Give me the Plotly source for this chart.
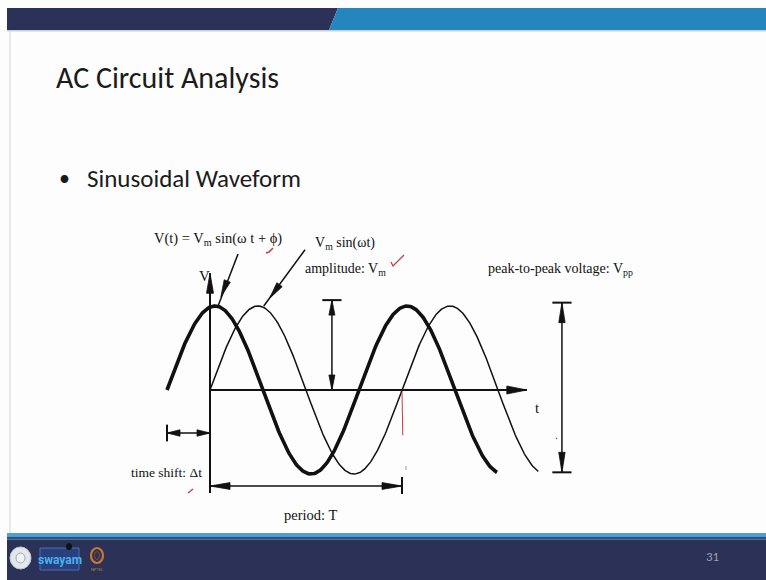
import numpy as np
import plotly.graph_objects as go

W, H = 766, 580

# ---- waveform parameters (time in periods, voltage in units of Vm) ----
PERIOD = 1.0
VM = 1.0
TIME_SHIFT = 0.224                 # Δt between the two waves
SHIFTED_SPAN = (-0.224, 1.495)     # bold wave  V(t) = Vm sin(ωt + φ)
BASE_SPAN = (0.0, 1.71)            # thin wave  Vm sin(ωt)

# ---- sketch axes ----
V_AXIS_SPAN = (-1.226, 1.39)
T_AXIS_END = 1.65

# ---- dimension markers ----
AMP_X, AMP_TOP = 0.635, 1.07
VPP_X, VPP_TOP, VPP_BOTTOM = 1.833, 1.04, -0.98
SHIFT_Y = -0.512
PERIOD_Y = -1.143
PERIOD_BAR = (-1.036, -1.238)

# ---- labels ----
TITLE = "AC Circuit Analysis"
BULLET = "Sinusoidal Waveform"
PAGE_NO = "31"

# scale of the sketch: pixels per period / per Vm, origin in page pixels
SX, SY = 192.0, 84.0
OX, OY = 210.0, 390.0
X_RANGE = [-OX / SX, (W - OX) / SX]
Y_RANGE = [-(H - OY) / SY, OY / SY]

INK = "#111111"
SERIF = "Liberation Serif, Times New Roman, serif"
SANS = "Carlito, Lato, sans-serif"
NAVY = "#2b3157"
BLUE = "#2586be"
RED = "#d23a3a"

fig = go.Figure()

# the two sinusoids
t1 = np.linspace(*SHIFTED_SPAN, 400)
fig.add_trace(go.Scatter(x=t1, y=VM * np.sin(2 * np.pi * (t1 + TIME_SHIFT) / PERIOD),
                         mode="lines", line=dict(color=INK, width=3.6), hoverinfo="skip"))
t2 = np.linspace(*BASE_SPAN, 400)
fig.add_trace(go.Scatter(x=t2, y=VM * np.sin(2 * np.pi * t2 / PERIOD),
                         mode="lines", line=dict(color=INK, width=1.5), hoverinfo="skip"))

shapes = []
annotations = []


def seg(x0, y0, x1, y1, width=1.5, color=INK):
    shapes.append(dict(type="line", xref="x", yref="y", x0=x0, y0=y0, x1=x1, y1=y1,
                       line=dict(color=color, width=width)))


def head(tip, frm, length=17, half=3.3):
    """Filled narrow arrowhead with its point at tip, aimed away from frm."""
    dx = (tip[0] - frm[0]) * SX
    dy = (tip[1] - frm[1]) * SY
    n = np.hypot(dx, dy)
    ux, uy = dx / n, dy / n
    bx, by = tip[0] - ux * length / SX, tip[1] - uy * length / SY
    p1 = (bx - uy * half / SX, by + ux * half / SY)
    p2 = (bx + uy * half / SX, by - ux * half / SY)
    path = f"M{tip[0]},{tip[1]} L{p1[0]},{p1[1]} L{p2[0]},{p2[1]} Z"
    shapes.append(dict(type="path", xref="x", yref="y", path=path,
                       fillcolor=INK, line=dict(color=INK, width=0.8)))


def label(x, y, text, anchor="left", size=13.5, font=SERIF, color=INK):
    annotations.append(dict(x=x, y=y, xref="x", yref="y",
                            text=text, showarrow=False, xanchor=anchor, yanchor="middle",
                            font=dict(family=font, size=size, color=color)))


# sketch axes
seg(0, V_AXIS_SPAN[0], 0, V_AXIS_SPAN[1], width=2)
head((0, V_AXIS_SPAN[1]), (0, 0), length=20, half=3.5)
seg(0, 0, T_AXIS_END, 0, width=2)
head((T_AXIS_END, 0), (0, 0), length=20, half=4)
label(-0.07, 1.36, "V", size=15)
label(1.683, -0.21, "t", size=15)

# pointer to the bold wave
f1_from, f1_end = (0.146, 1.62), (0.042, 1.0)
seg(*f1_from, *f1_end)
head((0.057, 1.11), f1_from)
label(0.385, 1.80, "V(t) = V<sub>m</sub> sin(ω t + ϕ)", anchor="right", size=14.5)

# pointer to the thin wave
f2_from, f2_end = (0.495, 1.67), (0.28, 1.0)
seg(*f2_from, *f2_end)
head((0.31, 1.09), f2_from)
label(0.536, 1.74, "V<sub>m</sub> sin(ωt)", size=14)

# amplitude marker
seg(AMP_X, 0, AMP_X, AMP_TOP)
seg(AMP_X - 0.05, AMP_TOP, AMP_X + 0.05, AMP_TOP, width=2)
head((AMP_X, AMP_TOP), (AMP_X, 0), length=15, half=3)
head((AMP_X, 0), (AMP_X, AMP_TOP), length=15, half=3)
label(0.485, 1.44, "amplitude: V<sub>m</sub>", size=14)

# peak-to-peak marker
seg(VPP_X, VPP_BOTTOM, VPP_X, VPP_TOP)
seg(VPP_X - 0.05, VPP_TOP, VPP_X + 0.05, VPP_TOP, width=2)
seg(VPP_X - 0.05, VPP_BOTTOM, VPP_X + 0.05, VPP_BOTTOM, width=2)
head((VPP_X, VPP_TOP), (VPP_X, VPP_BOTTOM), length=20, half=3.2)
head((VPP_X, VPP_BOTTOM), (VPP_X, VPP_TOP), length=20, half=3.2)
label(1.44, 1.44, "peak-to-peak voltage: V<sub>pp</sub>", size=14)

# time-shift marker
seg(-TIME_SHIFT, SHIFT_Y, 0, SHIFT_Y)
seg(-TIME_SHIFT, SHIFT_Y - 0.1, -TIME_SHIFT, SHIFT_Y + 0.1, width=2)
head((-TIME_SHIFT, SHIFT_Y), (0, SHIFT_Y), length=13, half=3.2)
head((0, SHIFT_Y), (-TIME_SHIFT, SHIFT_Y), length=13, half=3.2)
label(-0.03, -0.985, "time shift: Δt", anchor="right")

# period marker
seg(0, PERIOD_Y, PERIOD, PERIOD_Y)
seg(PERIOD, PERIOD_BAR[0], PERIOD, PERIOD_BAR[1], width=2)
head((0, PERIOD_Y), (PERIOD, PERIOD_Y), length=20, half=3.4)
head((PERIOD, PERIOD_Y), (0, PERIOD_Y), length=20, half=3.4)
label(0.525, -1.49, "period: T", anchor="center", size=14.5)

# hand-drawn red mark at the end of one period
seg(PERIOD, -0.02, PERIOD + 0.004, -0.54, width=1, color=RED)


def page_xy(px, py):
    return px / W, 1 - py / H


def page_path(points, fill=None, color=None, width=0, closed=True):
    p = [page_xy(*pt) for pt in points]
    d = "M" + " L".join(f"{x},{y}" for x, y in p) + (" Z" if closed else "")
    shapes.append(dict(type="path", xref="paper", yref="paper", path=d,
                       fillcolor=fill if fill else "rgba(0,0,0,0)",
                       line=dict(color=color if color else "rgba(0,0,0,0)", width=width),
                       layer="above"))


def page_rect(x0, y0, x1, y1, fill, color=None, width=0, kind="rect"):
    a, b = page_xy(x0, y1)
    c, d = page_xy(x1, y0)
    shapes.append(dict(type=kind, xref="paper", yref="paper", x0=a, y0=b, x1=c, y1=d,
                       fillcolor=fill,
                       line=dict(color=color if color else "rgba(0,0,0,0)", width=width)))


# red ticks
page_path([(266, 253), (269, 252), (273, 248)], color=RED, width=1.5, closed=False)
page_path([(391, 262), (393, 266), (404, 255)], color=RED, width=1.3, closed=False)
page_path([(188, 493), (193, 489)], color=RED, width=1.5, closed=False)
page_path([(556, 438), (557, 439)], color=RED, width=1.2, closed=False)
page_path([(406, 466), (406, 470)], color="#999999", width=1, closed=False)

# header band
page_path([(7, 8), (338, 8), (329, 30), (7, 30)], fill=NAVY)
page_path([(338, 8), (766, 8), (766, 30), (329, 30)], fill=BLUE)
page_rect(7, 30, 766, 31.5, "#c9d1dd")
page_rect(9.5, 31, 10.5, 533, "#d6d6d6")

# footer band
page_rect(7, 533, 766, 536.5, "#4aa0d6")
page_rect(7, 536.5, 766, 539.5, "#22578d")
page_rect(7, 539.5, 766, 580, NAVY)

# footer logos
page_rect(10, 547, 31, 569, "#e3e6ec", "#bfc4cd", 1, kind="circle")
page_rect(16, 553, 25, 563, "#f1f2f5", "#a3a9b5", 1, kind="circle")
page_rect(40, 548, 79, 570, "#2a3f7d", "#4d6db5", 1)
page_rect(66, 543, 72, 550, "#111111", kind="circle")
page_rect(91, 548, 103, 563, "rgba(0,0,0,0)", "#c9782f", 2.2, kind="circle")
page_rect(94.5, 551.5, 99.5, 559.5, "rgba(0,0,0,0)", "#8a4e2c", 1, kind="circle")

sx, sy = page_xy(59.5, 560)
annotations.append(dict(x=sx, y=sy, xref="paper", yref="paper", text="<b>swayam</b>",
                        showarrow=False, xanchor="center", yanchor="middle",
                        font=dict(family="Liberation Sans Narrow, Roboto, sans-serif",
                                  size=12, color="#47b2ee")))
nx, ny = page_xy(97, 569)
annotations.append(dict(x=nx, y=ny, xref="paper", yref="paper", text="NPTEL",
                        showarrow=False, xanchor="center", yanchor="middle",
                        font=dict(family="Roboto, sans-serif", size=4, color="#c9782f")))

# slide text
for px, py, text, size, color, anchor in [
    (54, 78, TITLE, 30, "#1b1b1b", "left"),
    (57, 178, "•", 22, "#1b1b1b", "left"),
    (85, 178, BULLET, 25, "#1b1b1b", "left"),
    (712, 556, PAGE_NO, 13, "#9ca1b6", "center"),
]:
    ax_, ay_ = page_xy(px, py)
    annotations.append(dict(x=ax_, y=ay_, xref="paper", yref="paper", text=text,
                            showarrow=False, xanchor=anchor, yanchor="middle",
                            font=dict(family=SANS, size=size, color=color, weight=300)))

fig.update_layout(
    width=W, height=H, autosize=False,
    margin=dict(l=0, r=0, t=0, b=0, pad=0),
    paper_bgcolor="#fdfdfd", plot_bgcolor="#fdfdfd",
    showlegend=False,
    xaxis=dict(range=X_RANGE, visible=False, domain=[0, 1], fixedrange=True),
    yaxis=dict(range=Y_RANGE, visible=False, domain=[0, 1], fixedrange=True),
    shapes=shapes, annotations=annotations,
)

fig.write_html("out.html", config={"displayModeBar": False})
